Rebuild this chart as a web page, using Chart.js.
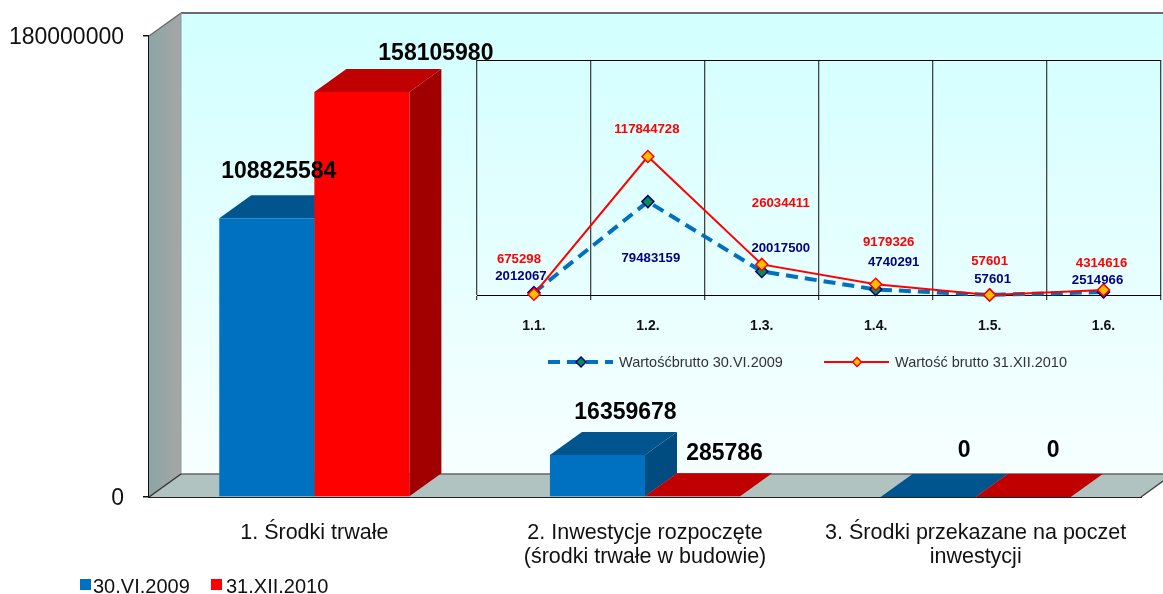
<!DOCTYPE html>
<html>
<head>
<meta charset="utf-8">
<title>Wartość brutto</title>
<script src="https://cdn.jsdelivr.net/npm/chart.js@4"></script>
<style>
  html, body { margin: 0; padding: 0; background: #fff; overflow: hidden; }
  #mainChart { position: absolute; left: 0; top: 0; }
  #insetChart { position: absolute; left: 440px; top: 40px; }
</style>
</head>
<body>
<canvas id="mainChart" width="1163" height="594"></canvas>
<canvas id="insetChart" width="728" height="350"></canvas>
<script>
var categories = [
  ['1. Środki trwałe'],
  ['2. Inwestycje rozpoczęte', '(środki trwałe w budowie)'],
  ['3. Środki przekazane na poczet', 'inwestycji']
];
var seriesNames = ['30.VI.2009', '31.XII.2010'];
var values2009 = [108825584, 16359678, 0];
var values2010 = [158105980, 285786, 0];
var mainMax = 180000000;

var insetCategories = ['1.1.', '1.2.', '1.3.', '1.4.', '1.5.', '1.6.'];
var insetNames = ['Wartośćbrutto 30.VI.2009', 'Wartość brutto 31.XII.2010'];
var inset2009 = [2012067, 79483159, 20017500, 4740291, 57601, 2514966];
var inset2010 = [675298, 117844728, 26034411, 9179326, 57601, 4314616];
var insetMax = 200000000;

var FONT = '"Liberation Sans", Arial, sans-serif';

// depth of the fake 3d box
var DX = 32;
var DY = -23;

// label offsets from the top centre of each bar / from each point
var mainLabelOffsets = [
  [[12, -47], [28, -42], [36, -46]],
  [[74, -38], [32, -43], [30, -46]]
];
var insetLabelOffsets = [
  [[-13, -16], [3, 57], [19, -23], [18, -27], [3, -16], [-6, -12]],
  [[-15, -35], [-1, -27], [19, -61], [13, -42], [0, -34], [-2, -27]]
];

var barColors = [
  { front: '#0070C0', top: '#00558F', side: '#004B80' },
  { front: '#FF0000', top: '#C00000', side: '#A00000' }
];

function poly(ctx, pts, fill) {
  ctx.beginPath();
  ctx.moveTo(pts[0][0], pts[0][1]);
  for (var i = 1; i < pts.length; i++) {
    ctx.lineTo(pts[i][0], pts[i][1]);
  }
  ctx.closePath();
  ctx.fillStyle = fill;
  ctx.fill();
}

function seg(ctx, x1, y1, x2, y2, color, width) {
  ctx.beginPath();
  ctx.moveTo(x1, y1);
  ctx.lineTo(x2, y2);
  ctx.strokeStyle = color;
  ctx.lineWidth = width;
  ctx.stroke();
}

// walls, floor and bar tops/sides, all under the bar fronts
var boxPlugin = {
  id: 'box',
  beforeDatasetsDraw: function (chart) {
    var ctx = chart.ctx;
    var a = chart.chartArea;
    var w = 1163;
    ctx.save();
    var wall = ctx.createLinearGradient(0, a.top + DY, 0, a.bottom + DY);
    wall.addColorStop(0, '#D2FFFF');
    wall.addColorStop(1, '#F7FFFF');
    ctx.fillStyle = wall;
    ctx.fillRect(a.left + DX, a.top + DY, w - a.left - DX, a.bottom - a.top);

    var side = ctx.createLinearGradient(a.left, 0, a.left + DX, 0);
    side.addColorStop(0, '#8CA6A6');
    side.addColorStop(1, '#A6A6A6');
    poly(ctx, [[a.left, a.top], [a.left + DX, a.top + DY], [a.left + DX, a.bottom + DY], [a.left, a.bottom]], side);

    poly(ctx, [[a.left, a.bottom], [a.left + DX, a.bottom + DY], [a.right + DX, a.bottom + DY], [a.right, a.bottom]], '#B1C3C0');

    seg(ctx, a.left + DX, a.top + DY, w, a.top + DY, '#6B6B6B', 2);
    seg(ctx, a.left, a.top, a.left + DX, a.top + DY, '#6B6B6B', 1.5);
    seg(ctx, a.left + DX, a.top + DY, a.left + DX, a.bottom + DY, '#8A9A9A', 1);
    seg(ctx, a.left + DX, a.bottom + DY, w, a.bottom + DY, '#666666', 1.5);
    seg(ctx, a.left, a.bottom, a.left + DX, a.bottom + DY, '#333333', 1.5);
    seg(ctx, a.right, a.bottom, a.right + DX, a.bottom + DY, '#444444', 1.5);

    chart.data.datasets.forEach(function (ds, i) {
      var c = barColors[i];
      chart.getDatasetMeta(i).data.forEach(function (bar) {
        var l = bar.x - bar.width / 2;
        var r = bar.x + bar.width / 2;
        var t = bar.y;
        var b = bar.base;
        poly(ctx, [[r, t], [r + DX, t + DY], [r + DX, b + DY], [r, b]], c.side);
        poly(ctx, [[l, t], [l + DX, t + DY], [r + DX, t + DY], [r, t]], c.top);
      });
    });
    ctx.restore();
  },
  afterDraw: function (chart) {
    var ctx = chart.ctx;
    ctx.save();
    ctx.font = 'bold 23px ' + FONT;
    ctx.fillStyle = '#000';
    ctx.textAlign = 'center';
    ctx.textBaseline = 'middle';
    chart.data.datasets.forEach(function (ds, i) {
      chart.getDatasetMeta(i).data.forEach(function (bar, j) {
        var off = mainLabelOffsets[i][j];
        ctx.fillText(String(ds.data[j]), bar.x + off[0], bar.y + off[1]);
      });
    });

    // legend under the chart
    ctx.font = '20px ' + FONT;
    ctx.textAlign = 'left';
    ctx.fillStyle = barColors[0].front;
    ctx.fillRect(80, 579, 11, 11);
    ctx.fillStyle = barColors[1].front;
    ctx.fillRect(211, 579, 11, 11);
    ctx.fillStyle = '#111';
    ctx.fillText(seriesNames[0], 93, 587);
    ctx.fillText(seriesNames[1], 226, 587);
    ctx.restore();
  }
};

function diamond(ctx, x, y, r, fill, stroke) {
  ctx.beginPath();
  ctx.moveTo(x, y - r);
  ctx.lineTo(x + r, y);
  ctx.lineTo(x, y + r);
  ctx.lineTo(x - r, y);
  ctx.closePath();
  ctx.fillStyle = fill;
  ctx.fill();
  ctx.strokeStyle = stroke;
  ctx.lineWidth = 1.5;
  ctx.stroke();
}

var insetPlugin = {
  id: 'insetLabels',
  afterDraw: function (chart) {
    var ctx = chart.ctx;
    ctx.save();
    ctx.font = 'bold 13.2px ' + FONT;
    ctx.textAlign = 'center';
    ctx.textBaseline = 'middle';
    chart.data.datasets.forEach(function (ds, i) {
      ctx.fillStyle = i === 0 ? '#000080' : '#FF0000';
      chart.getDatasetMeta(i).data.forEach(function (pt, j) {
        var off = insetLabelOffsets[i][j];
        ctx.fillText(String(ds.data[j]), pt.x + off[0], pt.y + off[1]);
      });
    });

    // inset legend, canvas starts at 440,40
    var ly = 322;
    ctx.save();
    ctx.setLineDash([12, 7]);
    seg(ctx, 108, ly, 173, ly, '#0070C0', 4);
    ctx.restore();
    diamond(ctx, 141, ly, 5, '#009050', '#000080');
    seg(ctx, 384, ly, 449, ly, '#FF0000', 2);
    diamond(ctx, 417, ly, 4.5, '#FFC000', '#FF0000');
    ctx.font = '14.5px ' + FONT;
    ctx.textAlign = 'left';
    ctx.fillStyle = '#333';
    ctx.fillText(insetNames[0], 179, ly + 1);
    ctx.fillText(insetNames[1], 455, ly + 1);
    ctx.restore();
  }
};

new Chart(document.getElementById('mainChart'), {
  type: 'bar',
  data: {
    labels: categories,
    datasets: [
      { label: seriesNames[0], data: values2009, backgroundColor: barColors[0].front },
      { label: seriesNames[1], data: values2010, backgroundColor: barColors[1].front }
    ]
  },
  options: {
    responsive: false,
    animation: false,
    devicePixelRatio: 1,
    categoryPercentage: 0.575,
    barPercentage: 1,
    layout: { padding: { left: 0, right: 22, top: 36, bottom: 0 } },
    plugins: { legend: { display: false }, tooltip: { enabled: false } },
    scales: {
      x: {
        grid: { display: false, drawTicks: false },
        border: { color: '#222', width: 2 },
        ticks: { color: '#111', font: { family: FONT, size: 21.5, lineHeight: '24px' }, padding: 24, maxRotation: 0, autoSkip: false },
        afterFit: function (s) { s.height = 97; }
      },
      y: {
        min: 0,
        max: mainMax,
        grid: { drawOnChartArea: false, tickLength: 6, color: '#111', lineWidth: 1.5 },
        border: { color: '#111', width: 2 },
        ticks: {
          stepSize: mainMax,
          color: '#111',
          padding: 19,
          // empty first line with a small lineHeight pushes the label 2px down
          font: { family: FONT, size: 23, lineHeight: '4px' },
          callback: function (v) { return ['', String(v)]; }
        },
        afterFit: function (s) { s.width = 149; }
      }
    }
  },
  plugins: [boxPlugin]
});

new Chart(document.getElementById('insetChart'), {
  type: 'line',
  data: {
    labels: insetCategories,
    datasets: [
      {
        label: insetNames[0],
        data: inset2009,
        borderColor: '#0070C0',
        borderWidth: 4,
        borderDash: [12, 7],
        pointStyle: 'rectRot',
        pointRadius: 6,
        pointBorderWidth: 1.5,
        pointBackgroundColor: '#009050',
        pointBorderColor: '#000080',
        tension: 0,
        clip: false,
        order: 2
      },
      {
        label: insetNames[1],
        data: inset2010,
        borderColor: '#FF0000',
        borderWidth: 2,
        pointStyle: 'rectRot',
        pointRadius: 6,
        pointBorderWidth: 1.5,
        pointBackgroundColor: '#FFC000',
        pointBorderColor: '#FF0000',
        tension: 0,
        clip: false,
        order: 1
      }
    ]
  },
  options: {
    responsive: false,
    animation: false,
    devicePixelRatio: 1,
    layout: { padding: { left: 37, right: 2, top: 20, bottom: 0 } },
    plugins: { legend: { display: false }, tooltip: { enabled: false } },
    scales: {
      x: {
        offset: true,
        grid: { offset: true, color: '#444', lineWidth: 1.3, tickLength: 5 },
        border: { color: '#000', width: 1 },
        ticks: { color: '#111', font: { family: FONT, size: 14, weight: 'bold' }, padding: 18 },
        afterFit: function (s) { s.height = 95; }
      },
      y: {
        min: 0,
        max: insetMax,
        // only the top line, the x axis border already draws the bottom one
        grid: {
          color: function (c) { return c.tick.value === 0 ? 'rgba(0,0,0,0)' : '#000'; },
          lineWidth: 1,
          drawTicks: false
        },
        border: { display: false },
        ticks: { display: false, stepSize: insetMax },
        afterFit: function (s) { s.width = 0; }
      }
    }
  },
  plugins: [insetPlugin]
});
</script>
</body>
</html>
